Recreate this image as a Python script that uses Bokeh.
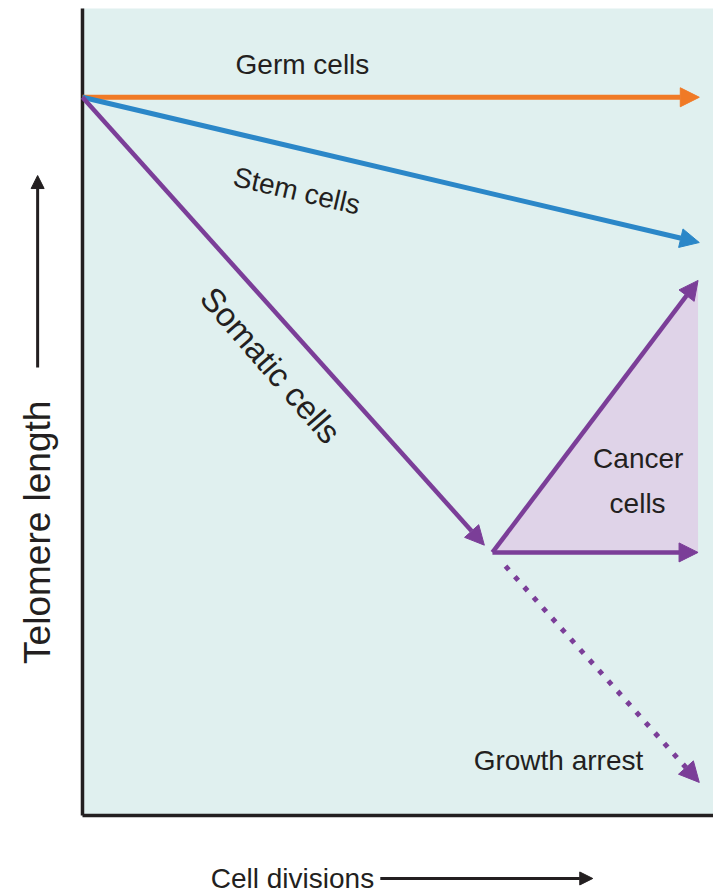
import math
from bokeh.plotting import figure
from bokeh.models import Arrow, NormalHead, Label, Range1d
from bokeh.embed import file_html
from bokeh.resources import INLINE

# ---- data (cell divisions on x, telomere length on y) ----
lineages = ["Germ cells", "Stem cells", "Somatic cells"]
lineage_colors = ["#f07a26", "#2b87c8", "#7b3e98"]
start_div = [0.0, 0.0, 0.0]
start_len = [8.9, 8.9, 8.9]
end_div = [9.9, 9.9, 6.45]
end_len = [8.9, 7.1, 3.35]

cancer_div = [6.58, 9.88, 9.88]
cancer_len = [3.26, 6.63, 3.26]

arrest_div = [6.79, 9.9]
arrest_len = [3.09, 0.41]

# panel extent (axes box)
X_MIN, X_MAX = 0.0, 10.13
Y_MIN, Y_MAX = 0.0, 10.0

PURPLE = "#7b3e98"
TEXT = "#231f20"
FONT = "Liberation Sans"

W, H = 713, 895
# canvas covers whole figure; axes box is drawn explicitly
p = figure(width=W, height=H, x_range=Range1d(-1.316, 10.128), y_range=Range1d(-0.991, 10.099),
           output_backend="svg", toolbar_location=None,
           min_border_left=0, min_border_right=0, min_border_top=0, min_border_bottom=0)
p.axis.visible = False
p.grid.visible = False
p.outline_line_color = None
p.background_fill_color = "white"
p.border_fill_color = "white"

# panel background
p.quad(left=[X_MIN], right=[X_MAX], bottom=[Y_MIN], top=[Y_MAX], fill_color="#e0f0ef", line_color=None)

# cancer triangle fill
p.patch(cancer_div, cancer_len, fill_color="#dfd3e8", line_color=None)

# axes lines
p.segment(x0=[X_MIN, X_MIN], y0=[Y_MIN, Y_MIN], x1=[X_MIN, X_MAX], y1=[Y_MAX, Y_MIN],
          line_color=TEXT, line_width=3.5)

def head(color, size=19):
    return NormalHead(size=size, fill_color=color, line_color=color, line_width=1)

# main lineage arrows
widths = [5, 5, 4.5]
for i in range(len(lineages)):
    p.add_layout(Arrow(x_start=start_div[i], y_start=start_len[i], x_end=end_div[i], y_end=end_len[i],
                       line_color=lineage_colors[i], line_width=widths[i], end=head(lineage_colors[i])))

# cancer arrows
for j in (1, 2):
    p.add_layout(Arrow(x_start=cancer_div[0], y_start=cancer_len[0], x_end=cancer_div[j], y_end=cancer_len[j],
                       line_color=PURPLE, line_width=4.5, end=head(PURPLE)))

# growth arrest dotted arrow
p.add_layout(Arrow(x_start=arrest_div[0], y_start=arrest_len[0], x_end=arrest_div[1], y_end=arrest_len[1],
                   line_color=PURPLE, line_width=5, line_dash="5 9", end=head(PURPLE, 20)))

def lab(text, x, y, size, angle=0.0):
    p.add_layout(Label(x=x, y=y, text=text, text_font=FONT, text_font_size=f"{size}px",
                       text_color=TEXT, text_align="center", text_baseline="middle",
                       angle=math.radians(angle)))

lab("Germ cells", 3.53, 9.31, 28)
lab("Stem cells", 3.44, 7.74, 28, -13)
lab("Somatic cells", 3.02, 5.58, 33, -49)
lab("Cancer", 8.92, 4.43, 28)
lab("cells", 8.91, 3.87, 28)
lab("Growth arrest", 7.64, 0.68, 28)

# axis titles with arrows
lab("Telomere length", -0.72, 3.51, 37, 90)
p.add_layout(Arrow(x_start=-0.72, y_start=5.55, x_end=-0.72, y_end=7.93, line_color=TEXT, line_width=3,
                   end=head(TEXT, 13)))
lab("Cell divisions", 3.37, -0.78, 28)
p.add_layout(Arrow(x_start=4.78, y_start=-0.78, x_end=8.19, y_end=-0.78, line_color=TEXT, line_width=3,
                   end=head(TEXT, 13)))

open("out.html", "w").write(file_html(p, INLINE))
